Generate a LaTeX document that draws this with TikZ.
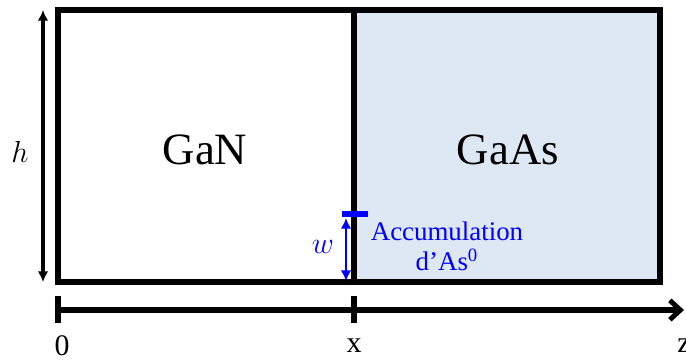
\documentclass[tikz,border=0pt]{standalone}
\usepackage{fontspec}
\setmainfont{Liberation Serif}
\usetikzlibrary{arrows.meta,positioning,calc}
\definecolor{gaasfill}{RGB}{222,232,245}
\definecolor{accblue}{RGB}{0,0,255}

\begin{document}
\begin{tikzpicture}[x=0.02cm,y=-0.02cm,
    wall/.style={line width=3.2pt},
    dimarrow/.style={line width=1.8pt,{Latex[length=6pt,width=6pt]}-{Latex[length=6pt,width=6pt]}},
    matlabel/.style={font=\fontsize{25.5}{30}\selectfont},
    axislabel/.style={font=\fontsize{17}{20}\selectfont}]
    \useasboundingbox (0,0) rectangle (686,360);

    % Couches
    \coordinate (tl) at (58,10);
    \coordinate (br) at (660,282);
    \coordinate (mt) at (354,10);
    \coordinate (mb) at (354,282);
    \fill[gaasfill] (mt) rectangle (br);
    \draw[wall] (tl) rectangle (br);
    \draw[wall] (mt) -- (mb);
    \node[matlabel] (gan) at (205,150) {GaN};
    \node[matlabel] (gaas) at (508,150) {GaAs};

    % Hauteur h
    \coordinate (htop) at (43,10);
    \coordinate (hbot) at (43,282);
    \draw[dimarrow] (htop) -- (hbot);
    \node[font=\fontsize{19}{20}\selectfont] (hlab) at (20,152) {$h$};

    % Axe z
    \coordinate (z0) at (58,310);
    \coordinate (zend) at (684,310);
    \draw[wall,-{Straight Barb[length=6pt,width=11pt,line width=2.8pt]}] (z0) -- (zend);
    \draw[wall] (58,296) -- (58,323);
    \draw[wall] (354,296) -- (354,323);
    \node[axislabel] (lab0) at (62,346) {0};
    \node[axislabel] (labx) at (354,346) {x};
    \node[axislabel] (labz) at (684,346) {z};

    % Accumulation d'As
    \coordinate (bar) at (355,214);
    \coordinate (wtop) at (346,218);
    \coordinate (wbot) at (346,281);
    \draw[accblue,line width=3.6pt] ($(bar)+(-13,0)$) -- ($(bar)+(13,0)$);
    \draw[dimarrow,accblue,line width=1.7pt] (wtop) -- (wbot);
    \node[accblue,font=\fontsize{19}{20}\selectfont] (wlab) at (323,247) {$w$};
    \node[accblue,font=\fontsize{15.3}{18}\selectfont,align=center,anchor=north] (acc) at (447,216)
        {Accumulation\\[-1pt]d’As\textsuperscript{0}};
\end{tikzpicture}
\end{document}
